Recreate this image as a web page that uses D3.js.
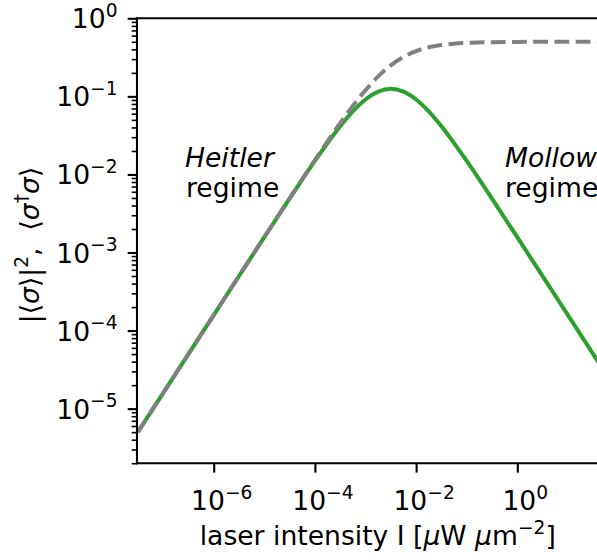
<!DOCTYPE html>
<html>
<head>
<meta charset="utf-8">
<script src="https://cdn.jsdelivr.net/npm/d3@7"></script>
<style>
body { margin: 0; background: #fff; }
text { font-family: "DejaVu Sans", sans-serif; }
</style>
</head>
<body>
<div id="chart-area"></div>
<script>
/*
*    saturation curve
*/

// values
var intensity = [3.16e-8, 1e-7, 3.16e-7, 1e-6, 3.16e-6, 1e-5, 3.16e-5, 1e-4, 1.78e-4, 3.16e-4, 5.62e-4,
	1e-3, 1.78e-3, 3.16e-3, 5.62e-3, 1e-2, 1.78e-2, 3.16e-2, 5.62e-2, 0.1, 0.316, 1, 3.16, 10, 31.6, 100];
var coherent = [5.0e-6, 1.58e-5, 5.0e-5, 1.58e-4, 5.0e-4, 1.57e-3, 4.9e-3, 0.0149, 0.0252, 0.0413, 0.0641,
	0.0912, 0.115, 0.125, 0.115, 0.0912, 0.0641, 0.0413, 0.0252, 0.0149, 0.0049, 1.57e-3, 4.98e-4, 1.58e-4, 5.0e-5, 1.58e-5];
var population = [5.0e-6, 1.58e-5, 5.0e-5, 1.58e-4, 5.0e-4, 1.58e-3, 4.95e-3, 0.0153, 0.0266, 0.0455, 0.0755,
	0.120, 0.180, 0.250, 0.320, 0.380, 0.425, 0.455, 0.473, 0.484, 0.495, 0.4985, 0.4995, 0.4998, 0.4999, 0.5];

var xTicks = [1e-6, 1e-4, 1e-2, 1];
var xTickExp = ["\u22126", "\u22124", "\u22122", "0"];
var yTicks = [1, 1e-1, 1e-2, 1e-3, 1e-4, 1e-5];
var yTickExp = ["0", "\u22121", "\u22122", "\u22123", "\u22124", "\u22125"];

var chartWidth = 597, chartHeight = 560;
var plotLeft = 137, plotTop = 18.3, plotBottom = 463.3, plotRight = 618.5;
var fs = 26.6;

var svg = d3.select("#chart-area").append("svg").attr("width", chartWidth).attr("height", chartHeight);

var x = d3.scaleLog().domain([Math.pow(10, -7.516), 100]).range([plotLeft, plotRight]);
var y = d3.scaleLog().domain([Math.pow(10, -5.7), 1]).range([plotBottom, plotTop]);

svg.append("clipPath").attr("id", "plot-clip").append("rect")
	.attr("x", plotLeft).attr("y", plotTop).attr("width", plotRight - plotLeft).attr("height", plotBottom - plotTop);

var line = d3.line().curve(d3.curveMonotoneX)
	.x((d) => { return x(d[0]); })
	.y((d) => { return y(d[1]); });

var plot = svg.append("g").attr("clip-path", "url(#plot-clip)");
plot.append("path").datum(d3.zip(intensity, coherent)).attr("d", line)
	.attr("fill", "none").attr("stroke", "#2ca02c").attr("stroke-width", 4);
plot.append("path").datum(d3.zip(intensity, population)).attr("d", line)
	.attr("fill", "none").attr("stroke", "#808080").attr("stroke-width", 4)
	.attr("stroke-dasharray", "14.8,6.4");

// y minor ticks
var yMinor = [];
for (var e = -6; e < 0; e++) {
	for (var m = 2; m < 10; m++) {
		var v = m * Math.pow(10, e);
		if (v >= y.domain()[0] && v <= 1) yMinor.push(v);
	}
}

var yMinorAxis = d3.axisLeft(y).tickValues(yMinor).tickSize(5.3).tickSizeOuter(0).tickFormat("");
var yAxis = d3.axisLeft(y).tickValues(yTicks).tickSize(9.3).tickSizeOuter(0).tickFormat("");
var xAxis = d3.axisBottom(x).tickValues(xTicks).tickSize(9.3).tickSizeOuter(0).tickFormat("");

var yMinorGroup = svg.append("g").attr("transform", "translate(" + plotLeft + ",0)").call(yMinorAxis);
var yAxisGroup = svg.append("g").attr("transform", "translate(" + plotLeft + ",0)").call(yAxis);
var xAxisGroup = svg.append("g").attr("transform", "translate(0," + plotBottom + ")").call(xAxis);
[yMinorGroup, yAxisGroup, xAxisGroup].forEach((g) => { g.select(".domain").remove(); });
yMinorGroup.selectAll("line").attr("stroke", "#000").attr("stroke-width", 1.6);
yAxisGroup.selectAll("line").attr("stroke", "#000").attr("stroke-width", 2.1);
xAxisGroup.selectAll("line").attr("stroke", "#000").attr("stroke-width", 2.1);

// tick labels as 10^n
yTicks.forEach((t, i) => {
	var label = svg.append("text").attr("x", plotLeft - 19.5).attr("y", y(t) + 10).attr("text-anchor", "end")
		.attr("font-size", fs).attr("fill", "#000");
	label.append("tspan").text("10");
	label.append("tspan").attr("dy", -11.5).attr("font-size", fs * 0.7).text(yTickExp[i]);
});
xTicks.forEach((t, i) => {
	var label = svg.append("text").attr("x", x(t) + 8).attr("y", 510).attr("text-anchor", "middle")
		.attr("font-size", fs).attr("fill", "#000");
	label.append("tspan").text("10");
	label.append("tspan").attr("dy", -11.5).attr("font-size", fs * 0.7).text(xTickExp[i]);
});

// spines
svg.append("line").attr("x1", plotLeft).attr("x2", plotLeft).attr("y1", plotTop).attr("y2", plotBottom)
	.attr("stroke", "#000").attr("stroke-width", 2.1).attr("stroke-linecap", "square");
svg.append("line").attr("x1", plotLeft).attr("x2", plotRight).attr("y1", plotBottom).attr("y2", plotBottom)
	.attr("stroke", "#000").attr("stroke-width", 2.1).attr("stroke-linecap", "square");
svg.append("line").attr("x1", plotLeft).attr("x2", plotRight).attr("y1", plotTop).attr("y2", plotTop)
	.attr("stroke", "#000").attr("stroke-width", 2.1).attr("stroke-linecap", "square");
svg.append("line").attr("x1", plotRight).attr("x2", plotRight).attr("y1", plotTop).attr("y2", plotBottom)
	.attr("stroke", "#000").attr("stroke-width", 2.1);

// axis labels
var xLabel = svg.append("text").attr("x", (plotLeft + plotRight) / 2).attr("y", 545).attr("text-anchor", "middle")
	.attr("font-size", fs).attr("fill", "#000");
xLabel.append("tspan").text("laser intensity I [");
xLabel.append("tspan").attr("font-style", "italic").text("\u03bc");
xLabel.append("tspan").text("W ");
xLabel.append("tspan").attr("font-style", "italic").text("\u03bc");
xLabel.append("tspan").text("m");
xLabel.append("tspan").attr("dy", -11.5).attr("font-size", fs * 0.7).text("\u22122");
xLabel.append("tspan").attr("dy", 11.5).text("]");

var yLabel = svg.append("text").attr("transform", "translate(39,245) rotate(-90)").attr("text-anchor", "middle")
	.attr("font-size", fs).attr("fill", "#000");
yLabel.append("tspan").text("|\u27e8");
yLabel.append("tspan").attr("font-style", "italic").text("\u03c3");
yLabel.append("tspan").text("\u27e9|");
yLabel.append("tspan").attr("dy", -11.5).attr("font-size", fs * 0.7).text("2");
yLabel.append("tspan").attr("dy", 11.5).text(",\u00a0\u00a0\u27e8");
yLabel.append("tspan").attr("font-style", "italic").text("\u03c3");
yLabel.append("tspan").attr("dy", -11.5).attr("font-size", fs * 0.7).text("\u2020");
yLabel.append("tspan").attr("dy", 11.5).attr("font-style", "italic").text("\u03c3");
yLabel.append("tspan").text("\u27e9");

// regime annotations
var heitler = svg.append("text").attr("x", 185).attr("y", 167).attr("font-size", fs).attr("fill", "#000");
heitler.append("tspan").attr("font-style", "italic").text("Heitler");
heitler.append("tspan").attr("x", 186).attr("dy", 30).text("regime");

var mollow = svg.append("text").attr("x", 505).attr("y", 167).attr("font-size", fs).attr("fill", "#000");
mollow.append("tspan").attr("font-style", "italic").text("Mollow");
mollow.append("tspan").attr("x", 505).attr("dy", 30).text("regime");
</script>
</body>
</html>
